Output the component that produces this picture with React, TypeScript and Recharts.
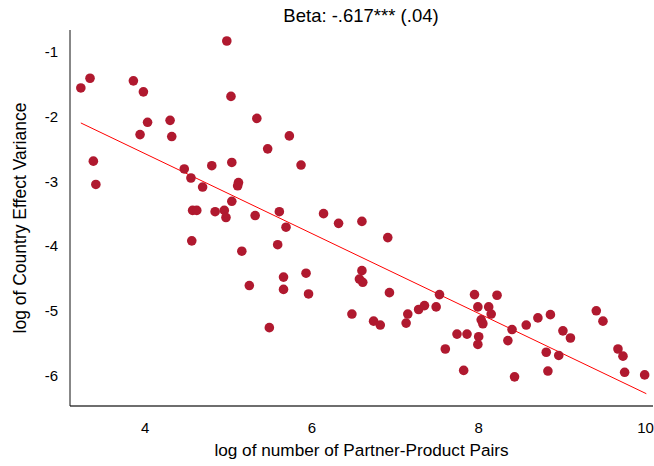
import React from "react";
import {
  ScatterChart,
  Scatter,
  XAxis,
  YAxis,
  ReferenceLine,
  Customized,
} from "recharts";

// log of number of Partner-Product Pairs
const logPairs: number[] = [
  4.98, 3.34, 3.23, 3.86, 3.98, 5.03, 5.34, 4.03, 4.30, 3.94,
  4.32, 3.38, 3.41, 4.47, 4.80, 5.04, 4.55, 4.69, 5.12, 5.11,
  5.04, 4.57, 4.62, 4.84, 4.95, 4.97, 5.32, 4.56, 5.16, 5.25,
  5.73, 5.47, 5.87, 5.61, 6.14, 5.69, 6.32, 6.60, 6.91, 5.59,
  5.66, 5.66, 5.93, 5.96, 5.49, 6.60, 6.57, 6.61, 6.93, 6.48,
  6.74, 6.82, 7.15, 7.13, 7.28, 7.35, 7.49, 7.53, 7.60, 7.95,
  8.22, 7.99, 8.12, 8.15, 8.03, 8.05, 7.74, 7.86, 8.00, 7.99,
  7.82, 8.40, 8.35, 8.57, 8.71, 8.86, 9.01, 9.10, 8.81, 8.96,
  8.43, 8.83, 9.41, 9.49, 9.67, 9.73, 9.75, 9.99,
];

// log of Country Effect Variance
const logVariance: number[] = [
  -0.835, -1.41, -1.56, -1.45, -1.62, -1.69, -2.03, -2.09, -2.06, -2.28,
  -2.31, -2.69, -3.05, -2.81, -2.76, -2.71, -2.95, -3.09, -3.02, -3.07,
  -3.31, -3.45, -3.45, -3.47, -3.45, -3.56, -3.53, -3.92, -4.08, -4.61,
  -2.30, -2.50, -2.75, -3.47, -3.50, -3.71, -3.65, -3.62, -3.87, -3.98,
  -4.48, -4.67, -4.42, -4.74, -5.26, -4.38, -4.51, -4.56, -4.72, -5.05,
  -5.16, -5.22, -5.05, -5.19, -4.98, -4.92, -4.94, -4.75, -5.59, -4.75,
  -4.76, -4.94, -4.94, -5.05, -5.14, -5.20, -5.36, -5.36, -5.40, -5.52,
  -5.92, -5.29, -5.46, -5.22, -5.11, -5.06, -5.31, -5.42, -5.64, -5.69,
  -6.02, -5.93, -5.00, -5.16, -5.59, -5.70, -5.95, -5.99,
];

// fitted line endpoints (Beta = -.617)
const fitX: number[] = [3.23, 10.01];
const fitY: number[] = [-2.1, -6.28];

const xTicks: number[] = [4, 6, 8, 10];
const yTicks: number[] = [-1, -2, -3, -4, -5, -6];

const titleText = "Beta: -.617*** (.04)";
const xLabel = "log of number of Partner-Product Pairs";
const yLabel = "log of Country Effect Variance";

const points = logPairs.map((x, i) => ({ x, y: logVariance[i] }));

const FONT = "'Liberation Sans', Arial, Helvetica, sans-serif";
const DOT = "#B0192F";

const Dot = (props: any) => {
  const { cx, cy } = props;
  if (cx == null || cy == null) return <g />;
  return <circle cx={cx} cy={cy} r={4.8} fill={DOT} stroke="none" />;
};

const Title = (props: any) => {
  const off = props.offset || {};
  const left = off.left ?? 70;
  const width = off.width ?? 582;
  return (
    <text
      x={left + width / 2}
      y={22}
      textAnchor="middle"
      fontFamily={FONT}
      fontSize={18.5}
      fill="#000"
    >
      {titleText}
    </text>
  );
};

export default function App() {
  return (
    <div style={{ position: "absolute", left: 0, top: 0 }}>
      <ScatterChart
        width={654}
        height={466}
        margin={{ top: 30, right: 1, bottom: 0, left: 0 }}
        style={{ background: "#fff" }}
      >
        <XAxis
          type="number"
          dataKey="x"
          domain={[3.1, 10.09]}
          allowDataOverflow
          ticks={xTicks}
          height={60}
          tickLine={false}
          tickSize={6}
          tickMargin={10}
          axisLine={{ stroke: "#6e6e6e", strokeWidth: 2 }}
          tick={{ fill: "#000", fontSize: 15, fontFamily: FONT }}
          label={{
            content: (p: any) => {
              const vb = p.viewBox || {};
              return (
                <text
                  x={vb.x + vb.width / 2}
                  y={456}
                  textAnchor="middle"
                  fontFamily={FONT}
                  fontSize={17.2}
                  fill="#000"
                >
                  {xLabel}
                </text>
              );
            },
          }}
        />
        <YAxis
          type="number"
          dataKey="y"
          domain={[-6.47, -0.665]}
          allowDataOverflow
          ticks={yTicks}
          width={70}
          tickLine={false}
          tickSize={6}
          tickMargin={6}
          axisLine={{ stroke: "#111", strokeWidth: 1 }}
          tick={{ fill: "#000", fontSize: 15, fontFamily: FONT }}
          label={{
            content: (p: any) => {
              const vb = p.viewBox || {};
              const cy = vb.y + vb.height / 2;
              return (
                <text
                  x={26}
                  y={cy}
                  transform={`rotate(-90, 26, ${cy})`}
                  textAnchor="middle"
                  fontFamily={FONT}
                  fontSize={17.5}
                  fill="#000"
                >
                  {yLabel}
                </text>
              );
            },
          }}
        />
        <Scatter
          data={points}
          shape={Dot}
          isAnimationActive={false}
        />
        <ReferenceLine
          segment={[
            { x: fitX[0], y: fitY[0] },
            { x: fitX[1], y: fitY[1] },
          ]}
          stroke="#ff0000"
          strokeWidth={1}
          ifOverflow="visible"
        />
        <Customized component={Title} />
      </ScatterChart>
    </div>
  );
}
